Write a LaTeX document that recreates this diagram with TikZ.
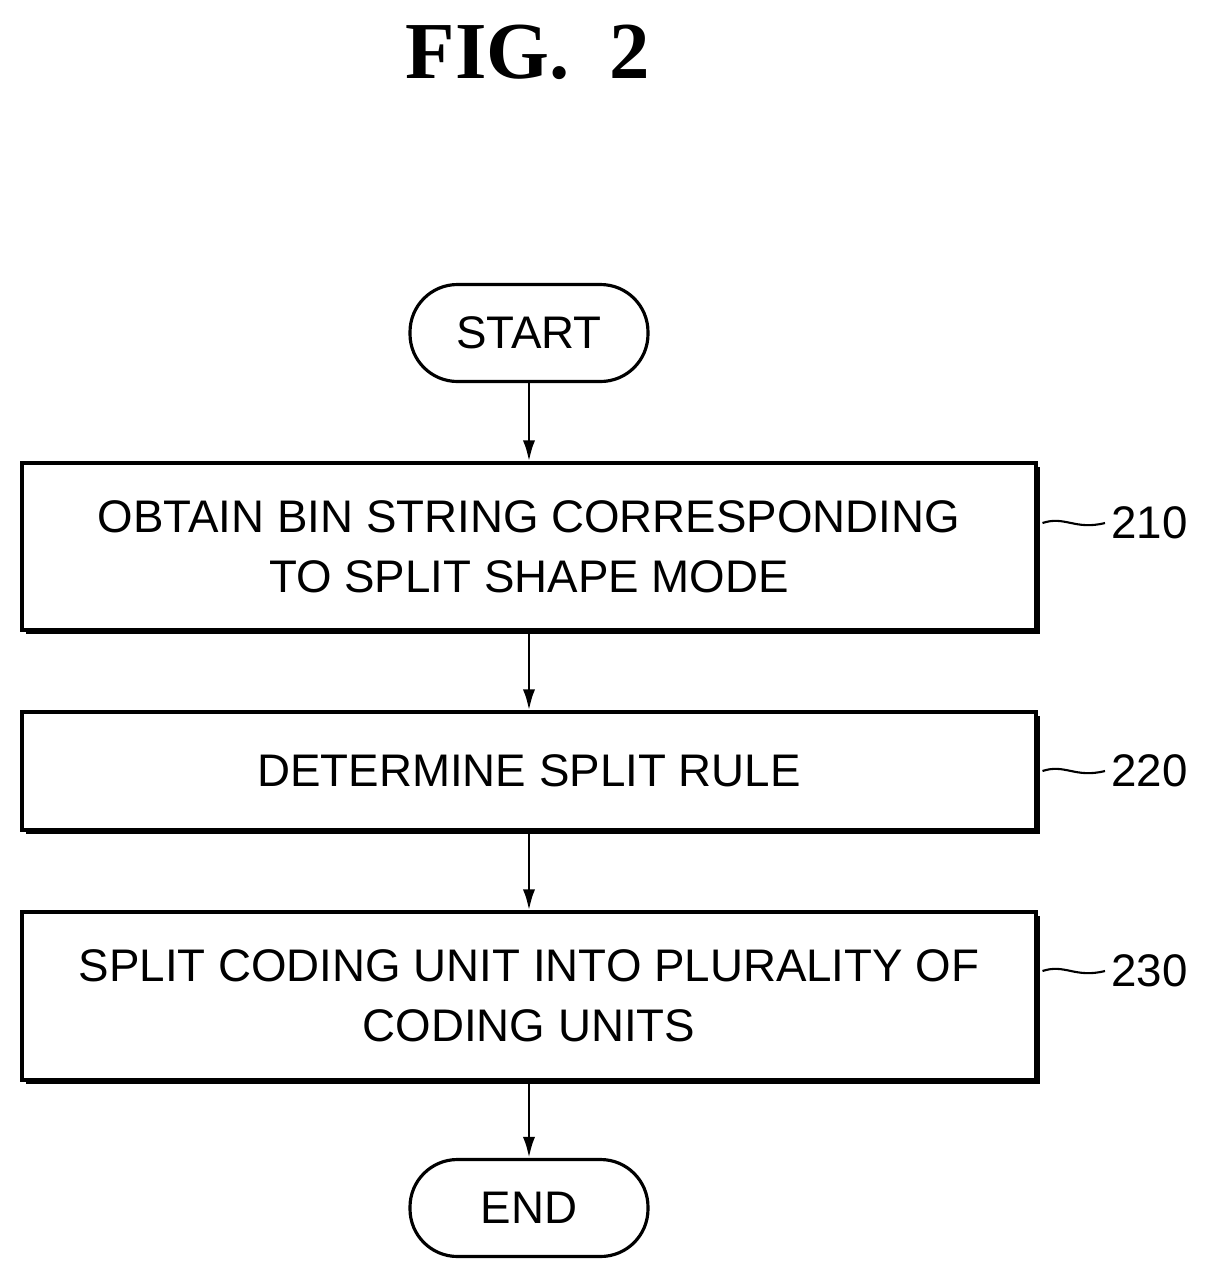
\documentclass[tikz,border=0pt]{standalone}
\usepackage{fontspec}
\setmainfont{Liberation Sans}
\newfontfamily\figfont{Liberation Serif}
\usetikzlibrary{shadows,arrows.meta}
\tikzset{
  stepbox/.style={draw,line width=1.8pt,fill=white,minimum width=20.28cm,align=center,
    font=\fontsize{26}{34}\selectfont,
    drop shadow={shadow xshift=2.5pt,shadow yshift=-2.5pt,opacity=1,fill=black}},
  term/.style={draw,line width=1.8pt,rounded corners=0.95cm,minimum width=4.76cm,
    minimum height=1.94cm,font=\fontsize{26}{34}\selectfont},
  flow/.style={-{Latex[length=12pt,width=7pt]},line width=1.6pt},
  tag/.style={font=\fontsize{26}{34}\selectfont}
}
\begin{document}
\begin{tikzpicture}
\useasboundingbox (0,0) rectangle (24.2,-25.62);
% TITLE
\node (title) at (10.56,-1.04) {\figfont\bfseries\fontsize{46}{54}\selectfont FIG.\ \ 2};
% TERMINALS
\node [term] (start) at (10.58,-6.66) {START};
\node [term] (end) at (10.58,-24.16) {END};
% STEPS
\node [stepbox,minimum height=3.34cm] (s210) at (10.58,-10.93)
  {OBTAIN BIN STRING CORRESPONDING\\TO SPLIT SHAPE MODE};
\node [stepbox,minimum height=2.36cm] (s220) at (10.58,-15.42) {DETERMINE SPLIT RULE};
\node [stepbox,minimum height=3.36cm] (s230) at (10.58,-19.92)
  {SPLIT CODING UNIT INTO PLURALITY OF\\CODING UNITS};
% ARROWS
\draw [flow] (start) -- (s210);
\draw [flow] (s210) -- (s220);
\draw [flow] (s220) -- (s230);
\draw [flow] (s230) -- (end);
% REFERENCE NUMERALS
\foreach \n/\y in {210/-10.46,220/-15.42,230/-19.42} {
  \node [tag,anchor=west] (t\n) at (22.1,\y) {\n};
  \draw [line width=1.2pt] (20.85,\y) .. controls (21.3,\y+0.15) and (21.5,\y-0.15) .. (t\n.west);
}
\end{tikzpicture}
\end{document}
